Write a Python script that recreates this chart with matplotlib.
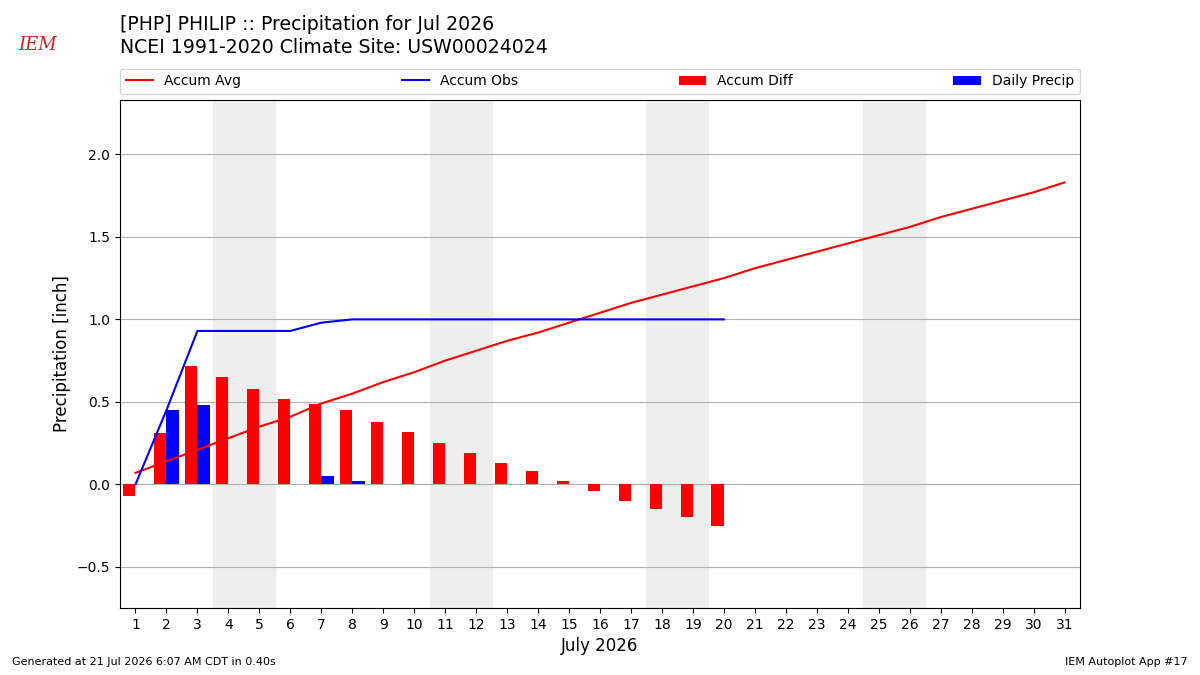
#!/usr/bin/env python3
import matplotlib
matplotlib.use("Agg")
import matplotlib.pyplot as plt
import numpy as np


days = np.arange(1, 32)
accum_avg = [0.07, 0.14, 0.21, 0.28, 0.35, 0.41, 0.49, 0.55, 0.62, 0.68,
             0.75, 0.81, 0.87, 0.92, 0.98, 1.04, 1.10, 1.15, 1.20, 1.25,
             1.31, 1.36, 1.41, 1.46, 1.51, 1.56, 1.62, 1.67, 1.72, 1.77, 1.83]
obs_days = np.arange(1, 21)
daily_precip = [0.00, 0.45, 0.48, 0.00, 0.00, 0.00, 0.05, 0.02, 0.00, 0.00,
                0.00, 0.00, 0.00, 0.00, 0.00, 0.00, 0.00, 0.00, 0.00, 0.00]
weekends = [4, 11, 18, 25]

accum_obs = np.cumsum(daily_precip)
accum_diff = accum_obs - np.array(accum_avg[:len(obs_days)])

fig = plt.figure(figsize=(12, 6.75), dpi=100)
ax = fig.add_axes([0.1, 0.099, 0.8, 0.753])

for d in weekends:
    ax.axvspan(d - 0.5, d + 1.5, color="#eeeeee", zorder=0)

ax.plot(days, accum_avg, color="r", lw=1.5, label="Accum Avg", zorder=3)
ax.plot(obs_days, accum_obs, color="b", lw=1.5, label="Accum Obs", zorder=3)
ax.bar(obs_days, accum_diff, width=-0.4, align="edge", color="r",
       label="Accum Diff", zorder=2)
ax.bar(obs_days, daily_precip, width=0.4, align="edge", color="b",
       label="Daily Precip", zorder=2)

ax.set_xlim(0.5, 31.5)
ax.set_ylim(-0.75, 2.33)
ax.set_xticks(days)
ax.set_yticks([-0.5, 0.0, 0.5, 1.0, 1.5, 2.0])
ax.grid(axis="y", color="#b0b0b0", zorder=1)
ax.set_axisbelow(True)
ax.tick_params(labelsize=10)
ax.set_xlabel("July 2026", fontsize=12)
ax.set_ylabel("Precipitation [inch]", fontsize=12)

ax.legend(loc="lower left", bbox_to_anchor=(0, 1.012, 1, 0.05), ncol=4,
          mode="expand", borderaxespad=0, fontsize=10)

fig.text(0.1, 0.963, "[PHP] PHILIP :: Precipitation for Jul 2026",
         fontsize=13.6, va="center")
fig.text(0.1, 0.929, "NCEI 1991-2020 Climate Site: USW00024024",
         fontsize=13.6, va="center")
fig.text(0.01, 0.015, "Generated at 21 Jul 2026 6:07 AM CDT in 0.40s",
         fontsize=8)
fig.text(0.99, 0.015, "IEM Autoplot App #17", fontsize=8, ha="right")
fig.text(0.031, 0.933, "IEM", fontsize=13, color="#d02020",
         family="serif", style="italic", va="center", ha="center")

fig.savefig("out.png")
